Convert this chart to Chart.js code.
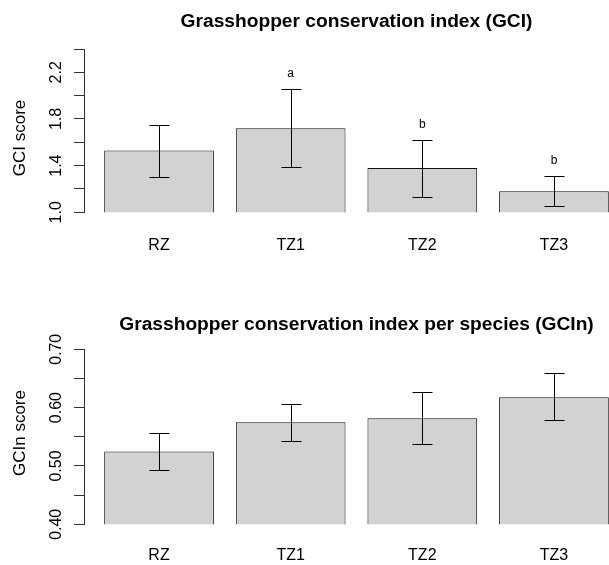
<!DOCTYPE html>
<html>
<head>
<meta charset="utf-8">
<script src="https://cdn.jsdelivr.net/npm/chart.js@4.4.1/dist/chart.umd.min.js"></script>
<style>
  html, body { margin: 0; padding: 0; background: #fff; overflow: hidden; width: 609px; height: 565px; }
  canvas { position: absolute; left: 0; }
  #gci { top: 0; }
  #gcin { top: 282px; }
</style>
</head>
<body>
<canvas id="gci" width="640" height="283"></canvas>
<canvas id="gcin" width="640" height="283"></canvas>
<script>
const categories = ['RZ', 'TZ1', 'TZ2', 'TZ3'];

// GCI: bar heights, error bar ends, letters of the post-hoc test
const gciMean = [1.53, 1.72, 1.38, 1.18];
const gciLow = [1.30, 1.39, 1.13, 1.05];
const gciHigh = [1.75, 2.06, 1.62, 1.31];
const gciLetters = ['', 'a', 'b', 'b'];
const gciTicks = ['1.0', '1.4', '1.8', '2.2'];

// GCIn
const gcinMean = [0.525, 0.575, 0.582, 0.618];
const gcinLow = [0.493, 0.543, 0.537, 0.578];
const gcinHigh = [0.557, 0.607, 0.627, 0.659];
const gcinLetters = ['', '', '', ''];
const gcinTicks = ['0.40', '0.50', '0.60', '0.70'];

const FONT = "'Liberation Sans', Arial, sans-serif";

function drawPanel(id, p) {
    return new Chart(document.getElementById(id), {
        type: 'bar',
        data: {
            datasets: [{
                data: p.mean.map((v, i) => ({x: i, y: v})),
                backgroundColor: '#d1d2d1',
                borderColor: '#111',
                borderWidth: 1,
                barPercentage: 1 / 1.2,
                categoryPercentage: 1
            }]
        },
        options: {
            responsive: false,
            animation: false,
            events: [],
            layout: {padding: {top: p.top, right: 11, left: 0, bottom: 0}},
            plugins: {legend: {display: false}, tooltip: {enabled: false}},
            scales: {
                x: {
                    type: 'linear', min: -0.57, max: 3.57, offset: false,
                    grid: {display: false, drawTicks: false, offset: false},
                    border: {display: false},
                    ticks: {display: false},
                    afterBuildTicks: s => { s.ticks = categories.map((c, i) => ({value: i})); },
                    afterFit: s => { s.height = p.xh; }
                },
                y: {
                    min: p.min, max: p.max,
                    ticks: {stepSize: p.step, display: false},
                    grid: {drawOnChartArea: false, tickLength: 10, color: '#333'},
                    border: {color: '#333'},
                    afterFit: s => { s.width = 84; }
                }
            }
        },
        plugins: [{
            id: 'rStyle',
            afterDraw(chart) {
                const {ctx, chartArea: a, scales: {x, y}} = chart;
                ctx.save();

                // error bars
                ctx.strokeStyle = '#000';
                ctx.lineWidth = 1;
                p.low.forEach((lo, i) => {
                    const px = Math.round(x.getPixelForValue(i)) + 0.5;
                    const y1 = Math.round(y.getPixelForValue(lo)) + 0.5;
                    const y2 = Math.round(y.getPixelForValue(p.high[i])) + 0.5;
                    ctx.beginPath();
                    ctx.moveTo(px, y1); ctx.lineTo(px, y2);
                    ctx.moveTo(px - 10, y1); ctx.lineTo(px + 10, y1);
                    ctx.moveTo(px - 10, y2); ctx.lineTo(px + 10, y2);
                    ctx.stroke();
                });

                ctx.fillStyle = '#000';
                ctx.textAlign = 'center';
                ctx.textBaseline = 'middle';

                // letters above the error bars
                ctx.font = '12px ' + FONT;
                p.letters.forEach((l, i) => {
                    if (l) ctx.fillText(l, x.getPixelForValue(i), y.getPixelForValue(p.high[i]) - 15);
                });

                // title
                ctx.font = 'bold 19.2px ' + FONT;
                ctx.fillText(p.title, (a.left + a.right) / 2, p.titleY);

                // category labels
                ctx.font = '16px ' + FONT;
                categories.forEach((c, i) => {
                    ctx.fillText(c, x.getPixelForValue(i), a.bottom + p.xGap);
                });

                // rotated y tick labels and axis title
                p.ticks.forEach(t => {
                    ctx.save();
                    ctx.translate(57, y.getPixelForValue(parseFloat(t)));
                    ctx.rotate(-Math.PI / 2);
                    ctx.fillText(t, 0, 0);
                    ctx.restore();
                });
                ctx.font = '17px ' + FONT;
                ctx.translate(20, p.yTitleY);
                ctx.rotate(-Math.PI / 2);
                ctx.fillText(p.yTitle, 0, 0);

                ctx.restore();
            }
        }]
    });
}

drawPanel('gci', {
    mean: gciMean, low: gciLow, high: gciHigh, letters: gciLetters, ticks: gciTicks,
    min: 1.0, max: 2.4, step: 0.2,
    title: 'Grasshopper conservation index (GCI)', yTitle: 'GCI score',
    top: 49, xh: 70.7, titleY: 21.5, yTitleY: 138, xGap: 33
});

drawPanel('gcin', {
    mean: gcinMean, low: gcinLow, high: gcinHigh, letters: gcinLetters, ticks: gcinTicks,
    min: 0.40, max: 0.70, step: 0.05,
    title: 'Grasshopper conservation index per species (GCIn)', yTitle: 'GCIn score',
    top: 67.3, xh: 40.7, titleY: 43, yTitleY: 151, xGap: 31
});
</script>
</body>
</html>
